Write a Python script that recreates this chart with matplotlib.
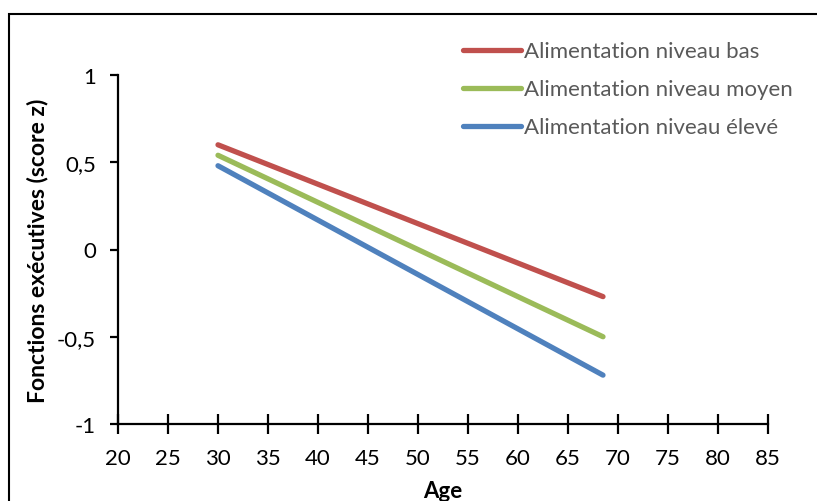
import matplotlib.pyplot as plt
from matplotlib.patches import Rectangle

ages = [30, 68.5]
bas = [0.60, -0.27]
moyen = [0.54, -0.50]
eleve = [0.48, -0.72]
labels = ["Alimentation niveau bas", "Alimentation niveau moyen", "Alimentation niveau élevé"]
colors = ["#C0504D", "#9BBB59", "#4F81BD"]

plt.rcParams['font.family'] = ['Lato', 'DejaVu Sans']

fig = plt.figure(figsize=(8.17, 5.02), dpi=100)
ax = fig.add_axes([118/817, 77/502, 650/817, 349/502])

for ys, lab, c in zip([bas, moyen, eleve], labels, colors):
    ax.plot(ages, ys, color=c, lw=3.8, solid_capstyle='round', label=lab)

ax.set_xlim(20, 85)
ax.set_ylim(-1, 1)
ax.set_xticks(range(20, 90, 5))
ax.set_yticks([-1, -0.5, 0, 0.5, 1])
ax.set_yticklabels(["-1", "-0,5", "0", "0,5", "1"])
ax.spines['top'].set_visible(False)
ax.spines['right'].set_visible(False)
ax.spines['left'].set_linewidth(1.6)
ax.spines['bottom'].set_linewidth(1.6)
ax.tick_params(axis='x', direction='inout', length=14, width=1.6, labelsize=16, pad=10)
ax.tick_params(axis='y', direction='out', length=6, width=1.6, labelsize=16, pad=10)
ax.set_xlabel("Age", fontweight='bold', fontsize=16, labelpad=9)
ax.set_ylabel("Fonctions exécutives (score z)", fontweight='bold', fontsize=16.5, labelpad=6)

leg = ax.legend(loc='upper left', bbox_to_anchor=(0.531, 1.096), frameon=False, fontsize=16,
                handlelength=2.6, handletextpad=0.15, labelspacing=0.81,
                borderaxespad=0, borderpad=0)
for t in leg.get_texts():
    t.set_color('#595959')

fig.patches.append(Rectangle((9/817, -0.1), 1.2, (502-15)/502 + 0.1, transform=fig.transFigure,
                             fill=False, edgecolor='black', lw=1.5))

fig.savefig("out.png", dpi=100)
